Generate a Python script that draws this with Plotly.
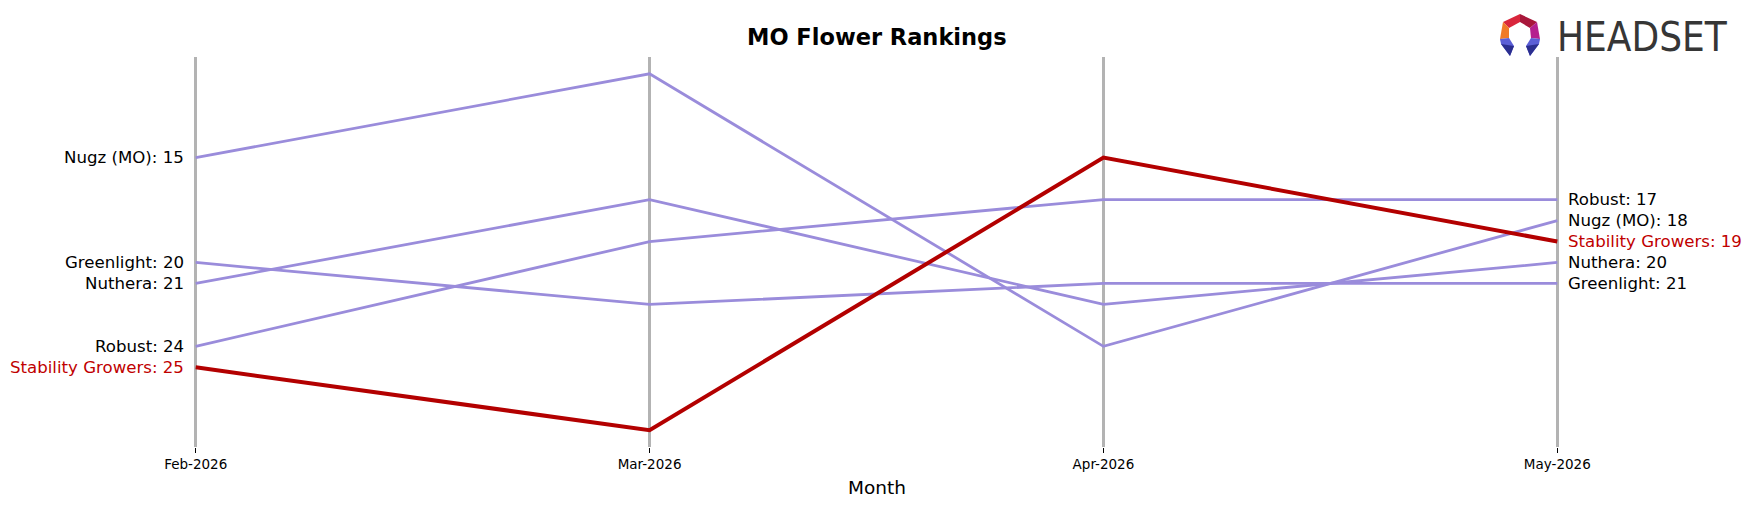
import plotly.graph_objects as go

months = ["Feb-2026", "Mar-2026", "Apr-2026", "May-2026"]
brands = ["Nugz (MO)", "Greenlight", "Nuthera", "Robust", "Stability Growers"]
ranks = {
    "Nugz (MO)": [15, 11, 24, 18],
    "Greenlight": [20, 22, 21, 21],
    "Nuthera": [21, 17, 22, 20],
    "Robust": [24, 19, 17, 17],
    "Stability Growers": [25, 28, 15, 19],
}
highlight = "Stability Growers"

W, H = 1750, 507
ML, MR, MT, MB = 173, 170, 57, 60
PW, PH = W - ML - MR, H - MT - MB

PURPLE = "#9a8cdb"
RED = "#b30000"
RED_TXT = "#c00000"
FONT = "DejaVu Sans"

x = list(range(len(months)))
fig = go.Figure()
for b in brands:
    if b == highlight:
        continue
    fig.add_trace(go.Scatter(x=x, y=ranks[b], mode="lines",
                             line=dict(color=PURPLE, width=2.8), hoverinfo="skip"))
fig.add_trace(go.Scatter(x=x, y=ranks[highlight], mode="lines",
                         line=dict(color=RED, width=4), hoverinfo="skip"))

ann = []
for b in brands:
    col = RED_TXT if b == highlight else "black"
    ann.append(dict(x=x[0], y=ranks[b][0], xref="x", yref="y", text=f"{b}: {ranks[b][0]}",
                    xanchor="right", yanchor="middle", xshift=-10, showarrow=False,
                    font=dict(family=FONT, size=16.6, color=col)))
    ann.append(dict(x=x[-1], y=ranks[b][-1], xref="x", yref="y", text=f"{b}: {ranks[b][-1]}",
                    xanchor="left", yanchor="middle", xshift=9, showarrow=False,
                    font=dict(family=FONT, size=16.6, color=col)))

def px2paper(px, py):
    return (px - ML) / PW, 1 - (py - MT) / PH

# title
tx, ty = px2paper(876, 37)
ann.append(dict(x=0.5, y=ty, xref="paper", yref="paper", text="<b>MO Flower Rankings</b>",
                showarrow=False, xanchor="center", yanchor="middle",
                font=dict(family=FONT, size=22.5, color="black")))
mx, my = px2paper(876, 487)
ann.append(dict(x=0.5, y=my, xref="paper", yref="paper", text="Month",
                showarrow=False, xanchor="center", yanchor="middle",
                font=dict(family=FONT, size=18.5, color="black")))
# logo text
lx, ly = px2paper(1555, 37)
ann.append(dict(x=lx, y=ly, xref="paper", yref="paper", text="HEADSET",
                showarrow=False, xanchor="left", yanchor="middle",
                font=dict(family="Liberation Sans Narrow, DejaVu Sans Condensed, Arial Narrow, sans-serif",
                          size=40, color="#363636")))

def poly(points, color):
    pts = [px2paper(a, b) for a, b in points]
    path = "M " + " L ".join(f"{p[0]:.5f},{p[1]:.5f}" for p in pts) + " Z"
    return dict(type="path", path=path, xref="paper", yref="paper",
                fillcolor=color, line=dict(width=0), layer="above")

shapes = [
    poly([(1520, 14), (1537, 22), (1530, 28), (1520, 22)], "#a8173a"),
    poly([(1520, 14), (1503, 22), (1509, 28), (1520, 22)], "#d9263c"),
    poly([(1503, 22), (1500, 39), (1509, 38), (1509, 28)], "#f07a28"),
    poly([(1537, 22), (1540, 39), (1531, 38), (1530, 28)], "#b5208e"),
    poly([(1500, 39), (1509, 38), (1514, 46), (1510, 56), (1501, 44)], "#5b5ed6"),
    poly([(1540, 39), (1531, 38), (1526, 46), (1530, 56), (1539, 44)], "#5b5ed6"),
    poly([(1501, 44), (1514, 46), (1510, 56)], "#2b2e8f"),
    poly([(1539, 44), (1526, 46), (1530, 56)], "#2b2e8f"),
]

fig.update_layout(
    width=W, height=H, margin=dict(l=ML, r=MR, t=MT, b=MB),
    paper_bgcolor="white", plot_bgcolor="white", showlegend=False,
    annotations=ann, shapes=shapes,
    xaxis=dict(range=[-0.05, 3.05], tickvals=x, ticktext=months, showgrid=True,
               gridcolor="#b3b3b3", gridwidth=2.5, zeroline=False, showline=False,
               ticks="outside", ticklen=5, tickcolor="black", tickwidth=1,
               tickfont=dict(family=FONT, size=13.5, color="black")),
    yaxis=dict(range=[28.8, 10.2], showgrid=False, zeroline=False, showline=False,
               showticklabels=False, ticks=""),
)
fig.write_html("out.html")
